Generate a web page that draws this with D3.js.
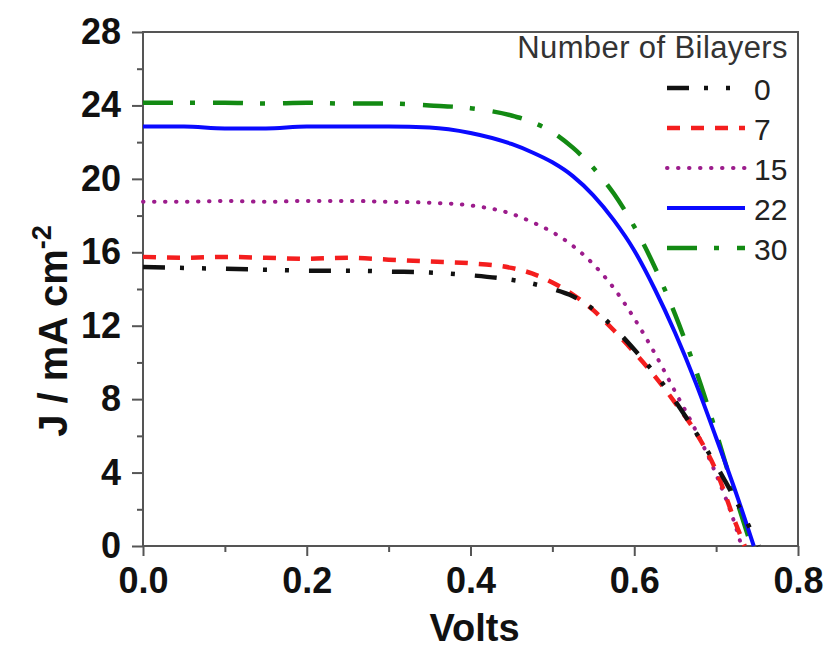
<!DOCTYPE html>
<html>
<head>
<meta charset="utf-8">
<script src="https://cdn.jsdelivr.net/npm/d3@7"></script>
<style>
	body { margin: 0; background: #fff; }
	svg { display: block; }
</style>
</head>
<body>
<script>
// Number of bilayers (legend labels)
var bilayers = ["0", "7", "15", "22", "30"];

// voltage grid shared by all curves (V)
var volts = [0, 0.05, 0.1, 0.15, 0.2, 0.25, 0.3, 0.35, 0.4, 0.45, 0.475,
	0.5, 0.525, 0.55, 0.575, 0.6, 0.625, 0.65, 0.675, 0.7, 0.725];

// open-circuit voltage, where each curve meets J = 0
var voc = [0.752, 0.735, 0.731, 0.746, 0.743];

// current density, mA cm-2
var j0 = [15.2, 15.15, 15.1, 15.05, 15.0, 15.0, 14.95, 14.9, 14.75, 14.5, 14.3,
	14.0, 13.6, 12.9, 11.9, 10.7, 9.4, 7.9, 6.2, 4.4, 2.4];
var j7 = [15.75, 15.7, 15.75, 15.7, 15.65, 15.7, 15.6, 15.5, 15.4, 15.15, 14.85,
	14.35, 13.7, 12.85, 11.75, 10.55, 9.25, 7.8, 6.2, 4.1, 1.1];
var j15 = [18.75, 18.75, 18.8, 18.75, 18.8, 18.8, 18.75, 18.7, 18.55, 18.1, 17.65,
	17.1, 16.35, 15.35, 14.05, 12.4, 10.5, 8.4, 6.3, 3.9, 0.9];
var j22 = [22.85, 22.85, 22.75, 22.75, 22.85, 22.85, 22.85, 22.8, 22.5, 21.9, 21.45,
	20.9, 20.15, 19.1, 17.75, 16.1, 14.0, 11.6, 8.9, 5.9, 2.8];
var j30 = [24.15, 24.15, 24.15, 24.1, 24.15, 24.1, 24.1, 24.0, 23.85, 23.45, 23.1,
	22.55, 21.7, 20.6, 19.2, 17.4, 15.2, 12.6, 9.6, 6.2, 2.5];

var xTicks = [0, 0.2, 0.4, 0.6, 0.8],
	xMinor = [0.1, 0.3, 0.5, 0.7],
	yTicks = [0, 4, 8, 12, 16, 20, 24, 28],
	yMinor = [2, 6, 10, 14, 18, 22, 26];

var series = [j0, j7, j15, j22, j30].map(function(js, i) {
	var pts = volts.map(function(v, k) { return [v, js[k]]; });
	pts.push([voc[i], 0]);
	return { name: bilayers[i], points: pts };
});

// line styles, one per series
var colors = ["#111111", "#f41e1e", "#9c1c8c", "#0a0aff", "#138a13"],
	dashes = ["22,15,4,18,4,20", "13,11", "0.5,10.5", null, "30,17,5,18"],
	widths = [4.5, 4.5, 4, 4, 4.5],
	caps = ["butt", "butt", "round", "butt", "butt"];

var width = 826,
	height = 650,
	margin = { left: 143, right: 28, top: 32, bottom: 104 };

var svg = d3.select("body")
	.append("svg")
	.attr("width", width)
	.attr("height", height)
	.style("font-family", "'Liberation Sans', Arial, sans-serif");

var x = d3.scaleLinear()
	.domain([0, 0.8])
	.range([margin.left, width - margin.right]);

var y = d3.scaleLinear()
	.domain([0, 28])
	.range([height - margin.bottom, margin.top]);

var axisColor = "#555";

// minor ticks first
svg.append("g")
	.attr("transform", "translate(0," + y(0) + ")")
	.call(d3.axisBottom(x).tickValues(xMinor).tickFormat("").tickSize(6).tickSizeOuter(0))
	.call(function(g) { g.select(".domain").remove(); });

svg.append("g")
	.attr("transform", "translate(" + x(0) + ",0)")
	.call(d3.axisLeft(y).tickValues(yMinor).tickFormat("").tickSize(6).tickSizeOuter(0))
	.call(function(g) { g.select(".domain").remove(); });

// major ticks + labels
var xAxis = svg.append("g")
	.attr("transform", "translate(0," + y(0) + ")")
	.call(d3.axisBottom(x).tickValues(xTicks).tickFormat(d3.format(".1f"))
		.tickSize(10).tickPadding(11).tickSizeOuter(0));

var yAxis = svg.append("g")
	.attr("transform", "translate(" + x(0) + ",0)")
	.call(d3.axisLeft(y).tickValues(yTicks).tickFormat(d3.format("d"))
		.tickSize(11).tickPadding(11).tickSizeOuter(0));

svg.selectAll(".tick line")
	.attr("stroke", axisColor)
	.attr("stroke-width", 2);
svg.selectAll(".domain").remove();

[xAxis, yAxis].forEach(function(a) {
	a.selectAll("text")
		.attr("fill", "#111")
		.style("font-size", "36px")
		.style("font-weight", "bold")
		.style("font-family", "'Liberation Sans', Arial, sans-serif");
});

// frame
svg.append("rect")
	.attr("x", x(0))
	.attr("y", y(28))
	.attr("width", x(0.8) - x(0))
	.attr("height", y(0) - y(28))
	.attr("fill", "none")
	.attr("stroke", axisColor)
	.attr("stroke-width", 2);

// curves, drawn from 30 down to 0 so the black one sits on top
var line = d3.line()
	.x(function(d) { return x(d[0]); })
	.y(function(d) { return y(d[1]); })
	.curve(d3.curveMonotoneX);

var order = [4, 3, 2, 1, 0];
order.forEach(function(i) {
	svg.append("path")
		.datum(series[i].points)
		.attr("d", line)
		.attr("fill", "none")
		.attr("stroke", colors[i])
		.attr("stroke-width", widths[i])
		.attr("stroke-linecap", caps[i])
		.attr("stroke-dasharray", dashes[i]);
});

// axis titles
svg.append("text")
	.attr("x", (x(0) + x(0.8)) / 2 + 4)
	.attr("y", 641)
	.attr("text-anchor", "middle")
	.style("font-size", "38px")
	.style("font-weight", "bold")
	.attr("fill", "#111")
	.text("Volts");

var yTitle = svg.append("text")
	.attr("transform", "translate(67,331) rotate(-90)")
	.attr("text-anchor", "middle")
	.style("font-size", "40px")
	.style("font-weight", "bold")
	.attr("fill", "#111");
yTitle.append("tspan").text("J / mA cm");
yTitle.append("tspan")
	.attr("dy", "-0.6em")
	.style("font-size", "27px")
	.text("-2");

// legend
var legend = svg.append("g");
legend.append("text")
	.attr("x", 788)
	.attr("y", 58)
	.attr("text-anchor", "end")
	.style("font-size", "31px")
	.style("letter-spacing", "0.4px")
	.attr("fill", "#333")
	.text("Number of Bilayers");

series.forEach(function(s, i) {
	var base = 100 + i * 40;
	legend.append("line")
		.attr("x1", 667)
		.attr("x2", 745)
		.attr("y1", base - 12)
		.attr("y2", base - 12)
		.attr("stroke", colors[i])
		.attr("stroke-width", widths[i])
		.attr("stroke-linecap", caps[i])
		.attr("stroke-dasharray", dashes[i]);
	legend.append("text")
		.attr("x", 754)
		.attr("y", base)
		.style("font-size", "30px")
		.attr("fill", "#222")
		.text(s.name);
});
</script>
</body>
</html>
